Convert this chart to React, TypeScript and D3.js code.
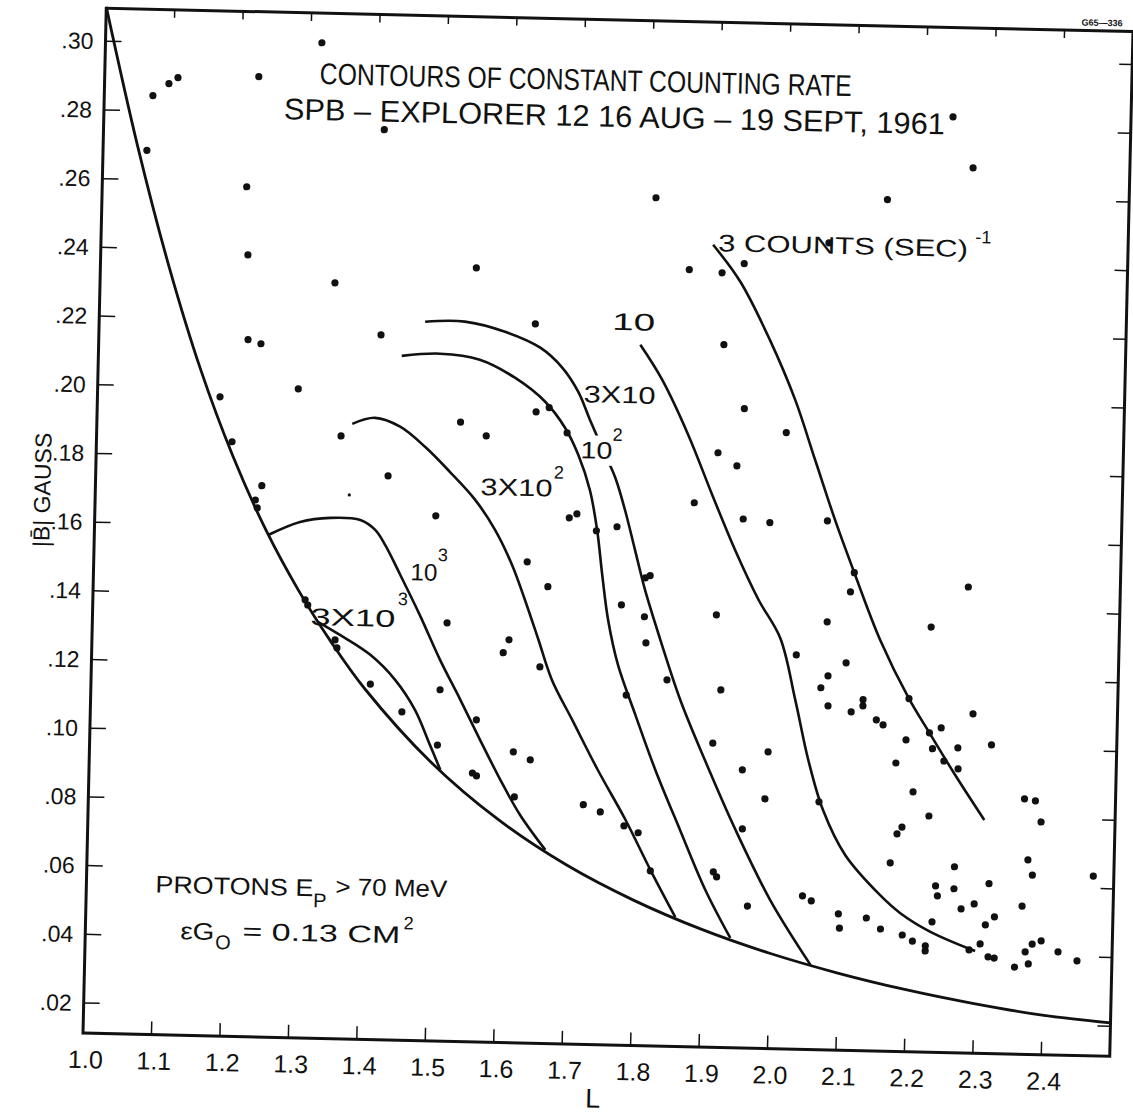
import React from "react";
import * as d3 from "d3";

// ---------- axis ticks ----------
const xTickValues = [1.0, 1.1, 1.2, 1.3, 1.4, 1.5, 1.6, 1.7, 1.8, 1.9, 2.0, 2.1, 2.2, 2.3, 2.4];
const xTickLabels = ["1.0", "1.1", "1.2", "1.3", "1.4", "1.5", "1.6", "1.7", "1.8", "1.9", "2.0", "2.1", "2.2", "2.3", "2.4"];
const yTickValues = [0.02, 0.04, 0.06, 0.08, 0.1, 0.12, 0.14, 0.16, 0.18, 0.2, 0.22, 0.24, 0.26, 0.28, 0.3];
const yTickLabels = [".02", ".04", ".06", ".08", ".10", ".12", ".14", ".16", ".18", ".20", ".22", ".24", ".26", ".28", ".30"];

// ---------- lower boundary (equatorial field) ----------
const boundaryL = [1.0, 1.05, 1.1, 1.15, 1.2, 1.25, 1.3, 1.35, 1.4, 1.5, 1.6, 1.7, 1.8, 1.9, 2.0, 2.1, 2.2, 2.3, 2.4, 2.5];
const boundaryB = [0.31, 0.27, 0.235, 0.205, 0.18, 0.159, 0.1415, 0.1265, 0.1133, 0.0922, 0.076, 0.0634, 0.0535, 0.0455, 0.039, 0.0337, 0.0293, 0.0257, 0.0228, 0.021];

// ---------- contours ----------
const c3000L = [1.33, 1.362, 1.407, 1.444, 1.474, 1.497, 1.513];
const c3000B = [0.1324, 0.1288, 0.1232, 0.1161, 0.1075, 0.0974, 0.0902];
const c1000L = [1.254, 1.3, 1.344, 1.388, 1.41, 1.425, 1.448, 1.478, 1.509, 1.54, 1.57, 1.601, 1.631, 1.669];
const c1000B = [0.1574, 0.1614, 0.1628, 0.1624, 0.1596, 0.1553, 0.1467, 0.1351, 0.1222, 0.1107, 0.0992, 0.0877, 0.0776, 0.0676];
const c300L = [1.373, 1.406, 1.443, 1.48, 1.517, 1.555, 1.585, 1.611, 1.631, 1.652, 1.673, 1.704, 1.743, 1.785, 1.823, 1.861];
const c300B = [0.1903, 0.1922, 0.1898, 0.1841, 0.177, 0.169, 0.1604, 0.1503, 0.1402, 0.1287, 0.1171, 0.1056, 0.0912, 0.0769, 0.0625, 0.0489];
const c100L = [1.443, 1.499, 1.557, 1.609, 1.654, 1.684, 1.704, 1.722, 1.734, 1.743, 1.753, 1.769, 1.796, 1.827, 1.865, 1.904, 1.942];
const c100B = [0.2104, 0.2113, 0.2098, 0.2048, 0.198, 0.1905, 0.1828, 0.1727, 0.1611, 0.148, 0.135, 0.1219, 0.1075, 0.0916, 0.0743, 0.057, 0.0432];
const c30L = [1.476, 1.534, 1.593, 1.645, 1.678, 1.702, 1.72, 1.74, 1.759, 1.774, 1.79, 1.806, 1.83, 1.861, 1.899, 1.946, 1.999, 2.06];
const c30B = [0.2205, 0.2208, 0.2181, 0.2137, 0.208, 0.2011, 0.193, 0.1844, 0.1763, 0.1671, 0.1555, 0.1439, 0.1295, 0.1122, 0.0948, 0.0747, 0.0545, 0.0359];
const c10L = [1.791, 1.824, 1.864, 1.901, 1.936, 1.972, 2.005, 2.029, 2.05, 2.073, 2.107, 2.159, 2.189, 2.234, 2.3];
const c10B = [0.2152, 0.2052, 0.1893, 0.172, 0.1562, 0.1418, 0.1308, 0.1129, 0.0955, 0.0811, 0.0681, 0.0567, 0.0516, 0.0463, 0.041];
const c3L = [1.894, 1.935, 1.98, 2.019, 2.05, 2.081, 2.111, 2.151, 2.195, 2.226, 2.265, 2.309];
const c3B = [0.2448, 0.2342, 0.2175, 0.2002, 0.1829, 0.1656, 0.1503, 0.1309, 0.114, 0.1042, 0.0921, 0.0792];

// ---------- measurement points ----------
const dotL = [
  1.064, 1.071, 1.094, 1.107, 1.316, 1.41, 2.24, 1.211, 1.225, 1.215, 1.218, 1.237, 1.179, 1.198, 1.234, 1.237, 1.243,
  1.343, 1.412, 1.293, 1.357, 1.427, 1.549, 1.637, 1.531, 1.569, 1.498, 1.518, 1.51, 1.455, 1.408, 1.31, 1.314, 1.355,
  1.358, 1.564, 1.56, 1.566, 1.508, 1.644, 1.619, 1.622, 1.601, 1.609, 1.633, 1.664, 1.655, 1.641, 1.66, 1.687, 1.693,
  1.704, 1.733, 1.763, 1.772, 1.782, 1.723, 1.748, 1.783, 1.804, 1.823, 1.806, 1.806, 1.813, 1.809, 1.841, 1.809, 1.86,
  1.908, 1.94, 1.908, 1.875, 1.913, 1.945, 1.936, 1.947, 1.986, 1.911, 1.92, 1.91, 1.954, 1.915, 1.92, 1.966, 1.956,
  1.988, 1.991, 2.007, 2.029, 2.046, 2.059, 2.063, 2.147, 2.271, 2.07, 2.111, 2.106, 2.278, 2.073, 2.225, 2.102, 2.076,
  2.066, 2.077, 2.128, 2.128, 2.111, 2.195, 2.148, 2.158, 2.289, 2.243, 2.226, 2.192, 2.231, 2.268, 2.317, 2.178, 2.248,
  2.269, 2.204, 2.067, 2.367, 2.383, 2.392, 2.228, 2.189, 2.182, 2.173, 2.267, 2.374, 2.381, 2.47, 2.24, 2.243, 2.267,
  2.318, 2.297, 2.278, 2.327, 2.314, 2.367, 2.236, 2.161, 2.193, 2.208, 2.227, 2.227, 2.307, 2.319, 2.328, 2.358, 2.378,
  2.373, 2.383, 2.396, 2.421, 2.449, 2.291, 2.099, 2.14, 2.101,
];
const dotB = [
  0.2685, 0.2845, 0.2881, 0.2899, 0.301, 0.2761, 0.2836, 0.2586, 0.2907, 0.2388, 0.2141, 0.213, 0.1973, 0.1843, 0.1675, 0.1652, 0.1717,
  0.2312, 0.2164, 0.2001, 0.1867, 0.1754, 0.2365, 0.2206, 0.1915, 0.1877, 0.1641, 0.133, 0.1135, 0.1068, 0.1147, 0.1388, 0.1373, 0.1273,
  0.125, 0.105, 0.0895, 0.0887, 0.0974, 0.0937, 0.0959, 0.0828, 0.1247, 0.1285, 0.1513, 0.1442, 0.1208, 0.195, 0.1963, 0.1891, 0.1644,
  0.1656, 0.1608, 0.1621, 0.1394, 0.1132, 0.081, 0.079, 0.0751, 0.0732, 0.0622, 0.1361, 0.1474, 0.1481, 0.1285, 0.1179, 0.2581, 0.2374,
  0.2367, 0.2395, 0.1843, 0.1696, 0.2158, 0.1973, 0.1806, 0.1652, 0.1643, 0.1371, 0.1153, 0.0998, 0.0922, 0.0623, 0.0609, 0.0526, 0.075,
  0.0839, 0.0976, 0.1906, 0.126, 0.0559, 0.0545, 0.2461, 0.2591, 0.2689, 0.1652, 0.1503, 0.1447, 0.1469, 0.1358, 0.135, 0.124, 0.1201,
  0.1166, 0.1114, 0.1134, 0.1116, 0.1098, 0.114, 0.1076, 0.1062, 0.11, 0.1057, 0.1042, 0.102, 0.0996, 0.1, 0.1011, 0.0952, 0.0961,
  0.0939, 0.0869, 0.0834, 0.0856, 0.0851, 0.079, 0.08, 0.0766, 0.0746, 0.0661, 0.0654, 0.0679, 0.0635, 0.0636, 0.0597, 0.0568, 0.059,
  0.0607, 0.0547, 0.0532, 0.0511, 0.0487, 0.0544, 0.0492, 0.0468, 0.0452, 0.0435, 0.0422, 0.0407, 0.0431, 0.0394, 0.0391, 0.0366, 0.0376,
  0.0411, 0.0434, 0.0444, 0.0413, 0.0388, 0.0413, 0.0509, 0.0499, 0.0468,
];
const faintDotL = [1.371];
const faintDotB = [0.1696];

const FONT = "'Liberation Sans', 'DejaVu Sans', sans-serif";

export default function App() {
  // frame of the (scanned, slightly rotated) plot
  const left = 83;
  const right = 1110;
  const bottom = 1033;
  const top = 8;
  const x = d3.scaleLinear().domain([1.0, 2.5]).range([left, right]);
  const y = d3.scaleLinear().domain([0.02, 0.3]).range([1003, 41]);

  const line = d3
    .line<[number, number]>()
    .x((d) => x(d[0]))
    .y((d) => y(d[1]))
    .curve(d3.curveCatmullRom.alpha(0.5));

  const zip = (a: number[], b: number[]) => a.map((v, i) => [v, b[i]] as [number, number]);
  const contours = [
    zip(c3000L, c3000B),
    zip(c1000L, c1000B),
    zip(c300L, c300B),
    zip(c100L, c100B),
    zip(c30L, c30B),
    zip(c10L, c10B),
    zip(c3L, c3B),
  ];
  const boundary = zip(boundaryL, boundaryB);
  const dots = zip(dotL, dotB);
  const faint = zip(faintDotL, faintDotB);

  const ink = "#111";
  const labelStyle: React.CSSProperties = { fontFamily: FONT, fill: ink };
  const fit = (w: number) => ({ textLength: w, lengthAdjust: "spacingAndGlyphs" as const });

  return (
    <svg
      width={1133}
      height={1114}
      viewBox="0 0 1133 1114"
      style={{ position: "absolute", left: 0, top: 0, background: "#fff" }}
    >
      <rect x={0} y={0} width={1133} height={1114} fill="#fff" />
      <g transform={`rotate(1.3 ${left} ${bottom})`}>
        {/* frame */}
        <rect x={left} y={top} width={right - left} height={bottom - top} fill="none" stroke={ink} strokeWidth={3} />
        {/* left & right ticks */}
        {yTickValues.map((t, i) => (
          <g key={"yt" + i}>
            <line x1={left} x2={left + 16} y1={y(t)} y2={y(t)} stroke={ink} strokeWidth={1.5} />
            <line x1={right} x2={right - 13} y1={y(t)} y2={y(t)} stroke={ink} strokeWidth={1.5} />
            <text
              x={left - 12}
              y={y(t)}
              textAnchor="end"
              dominantBaseline="central"
              fontSize={23}
              style={labelStyle}
            >
              {yTickLabels[i]}
            </text>
          </g>
        ))}
        {/* bottom & top ticks */}
        {xTickValues.map((t, i) => (
          <g key={"xt" + i}>
            {i > 0 && <line x1={x(t)} x2={x(t)} y1={bottom} y2={bottom - 13} stroke={ink} strokeWidth={1.5} />}
            {i > 0 && <line x1={x(t)} x2={x(t)} y1={top} y2={top + 8} stroke={ink} strokeWidth={1.5} />}
            <text x={x(t) + 3} y={bottom + 35} textAnchor="middle" fontSize={25} style={labelStyle}>
              {xTickLabels[i]}
            </text>
          </g>
        ))}
        <text x={594} y={1096} textAnchor="middle" fontSize={27} style={labelStyle}>
          L
        </text>
        <text
          transform="translate(30 491) rotate(-90)"
          textAnchor="middle"
          dominantBaseline="central"
          fontSize={23}
          style={labelStyle}
        >
          {"|B\u0304| GAUSS"}
        </text>
        <text x={1079} y={3} textAnchor="middle" fontSize={9} fontWeight="bold" style={labelStyle}>
          G65—336
        </text>

        {/* boundary and contours */}
        <path d={line(boundary) || ""} fill="none" stroke={ink} strokeWidth={2.8} />
        {contours.map((c, i) => (
          <path key={"c" + i} d={line(c) || ""} fill="none" stroke={ink} strokeWidth={2.6} />
        ))}

        {/* points */}
        {dots.map((d, i) => (
          <circle key={"d" + i} cx={x(d[0])} cy={y(d[1])} r={3.6} fill={ink} />
        ))}
        {faint.map((d, i) => (
          <circle key={"f" + i} cx={x(d[0])} cy={y(d[1])} r={1.6} fill={ink} />
        ))}

        {/* title */}
        <text x={298} y={79} fontSize={30} {...fit(532)} style={labelStyle}>
          CONTOURS OF CONSTANT COUNTING RATE
        </text>
        <text x={263} y={115} fontSize={30} {...fit(661)} style={labelStyle}>
          SPB – EXPLORER 12 16 AUG – 19 SEPT, 1961
        </text>

        {/* contour labels */}
        <g style={labelStyle} fontSize={24}>
          <text x={700} y={237} {...fit(250)}>3 COUNTS (SEC)</text>
          <text x={957} y={223} fontSize={18}>-1</text>
          <text x={596} y={318} {...fit(43)}>10</text>
          <text x={569} y={391} {...fit(72)}>3X10</text>
          <rect x={580} y={424} width={30} height={30} fill="#fff" />
          <text x={567} y={447} {...fit(32)}>10</text>
          <text x={599} y={429} fontSize={18}>2</text>
          <text x={468} y={486} {...fit(72)}>3X10</text>
          <text x={541} y={468} fontSize={18}>2</text>
          <text x={400} y={573} {...fit(27)}>10</text>
          <text x={427} y={553} fontSize={18}>3</text>
          <text x={301} y={620} {...fit(85)}>3X10</text>
          <text x={388} y={598} fontSize={18}>3</text>
        </g>

        {/* legend */}
        <g style={labelStyle}>
          <text x={152} y={891} fontSize={24} {...fit(158)}>PROTONS E</text>
          <text x={310} y={902} fontSize={20}>P</text>
          <text x={332} y={889} fontSize={24} {...fit(112)}>&gt; 70 MeV</text>
          <text x={178} y={937} fontSize={24} {...fit(34)}>εG</text>
          <text x={213} y={946} fontSize={20}>O</text>
          <text x={240} y={936} fontSize={24} {...fit(158)}>= 0.13 CM</text>
          <text x={401} y={922} fontSize={18}>2</text>
        </g>
      </g>
    </svg>
  );
}
